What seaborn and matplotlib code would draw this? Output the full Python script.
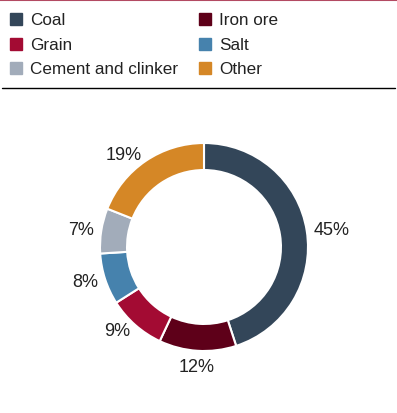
import matplotlib
matplotlib.use("Agg")
import matplotlib.pyplot as plt
import matplotlib.patches as mpatches
from matplotlib.lines import Line2D
import numpy as np
import seaborn as sns

categories = ["Coal", "Iron ore", "Grain", "Salt", "Cement and clinker", "Other"]
values = [45, 12, 9, 8, 7, 19]
colors = ["#334659", "#5e0019", "#a30b33", "#4682ad", "#a2acba", "#d58726"]
legend_order = ["Coal", "Grain", "Cement and clinker", "Iron ore", "Salt", "Other"]

sns.set_theme(style="white")
plt.rcParams["font.family"] = ["Liberation Sans", "DejaVu Sans"]

W, H = 397, 414
fig = plt.figure(figsize=(W / 100, H / 100), dpi=100)

# top and separator lines
fig.add_artist(Line2D([0, 1], [1 - 1 / H, 1 - 1 / H], color="#b34a62", lw=1.5, transform=fig.transFigure))
fig.add_artist(Line2D([2 / W, 395 / W], [1 - 89 / H, 1 - 89 / H], color="black", lw=1.0, transform=fig.transFigure))

# legend (two columns, three rows)
cmap = dict(zip(categories, colors))
col_x = [10, 199]
row_y = [20, 44.5, 69]
for i, name in enumerate(legend_order):
    x = col_x[i // 3]
    y = row_y[i % 3]
    fig.add_artist(mpatches.Rectangle(((x) / W, 1 - (y + 6) / H), 12 / W, 12 / H,
                                      color=cmap[name], transform=fig.transFigure))
    fig.text((x + 20) / W, 1 - (y + 0.5) / H, name, fontsize=12.3, color="#222222",
             va="center", ha="left")

# donut
cx, cy, R = 204, 248, 104
half = 150
ax = fig.add_axes([(cx - half) / W, (H - cy - half) / H, 2 * half / W, 2 * half / H])
total = sum(values)
pct_labels = [f"{v / total * 100:.0f}%" for v in values]
wedges, texts = ax.pie(
    values, colors=colors, startangle=90, counterclock=False,
    labels=pct_labels, labeldistance=1.07,
    wedgeprops=dict(width=0.26, edgecolor="white", linewidth=1.5),
    textprops=dict(fontsize=13, color="#222222"),
)
for w, t in zip(wedges, texts):
    ang = np.deg2rad((w.theta1 + w.theta2) / 2)
    if abs(np.cos(ang)) < 0.2:
        t.set_ha("center")
        t.set_va("top" if np.sin(ang) < 0 else "bottom")
lim = half / R
ax.set_xlim(-lim, lim)
ax.set_ylim(-lim, lim)
ax.set_aspect("equal")
ax.axis("off")

fig.savefig("out.png", dpi=100)
